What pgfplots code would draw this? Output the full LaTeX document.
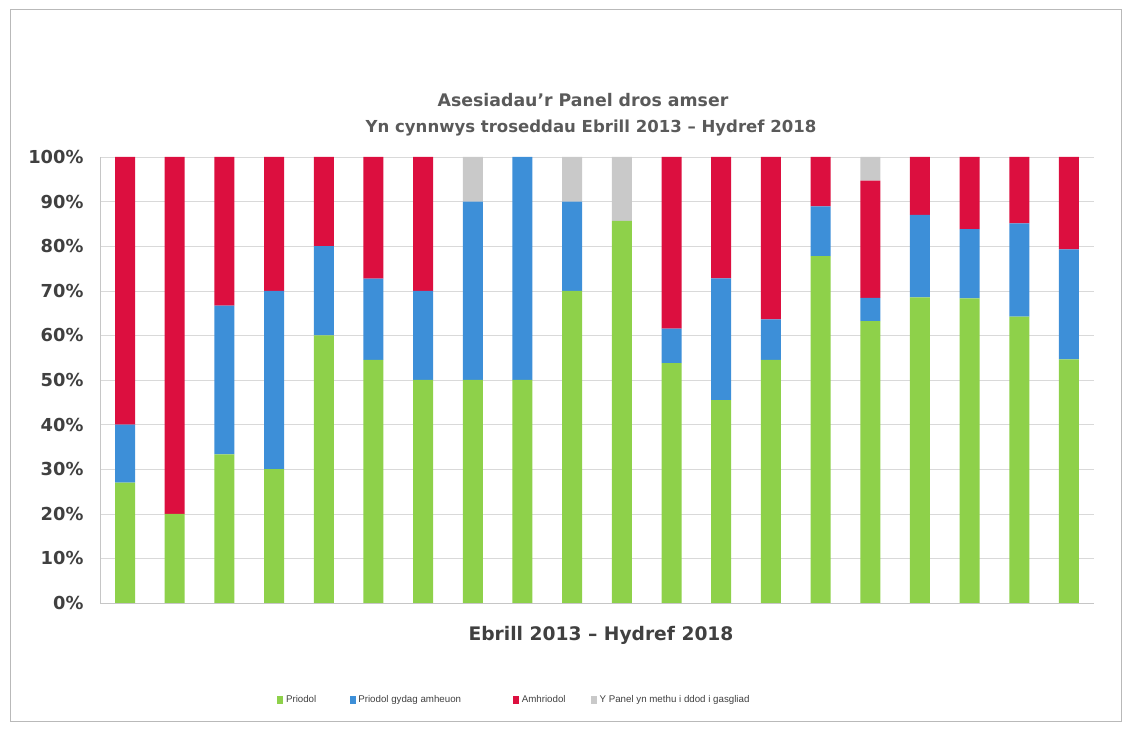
\documentclass[border=0pt]{standalone}
\usepackage{fontspec}
\setmainfont{DejaVu Sans}
\newfontfamily\legfont{Liberation Sans}
\usepackage{pgfplots}
\usepackage{pgfplotstable}
\pgfplotsset{compat=1.18}

\definecolor{cgreen}{HTML}{8ED14A}
\definecolor{cblue}{HTML}{3D8FD8}
\definecolor{cred}{HTML}{DC0F3F}
\definecolor{cgrey}{HTML}{C9C9C9}
\definecolor{ctext}{HTML}{5A5A5A}
\definecolor{ctick}{HTML}{404040}

% shares per period (percent of cases)
\pgfplotstableread{
idx green blue red grey
0  27   13   60   0
1  20   0    80   0
2  33.3 33.4 33.3 0
3  30   40   30   0
4  60   20   20   0
5  54.5 18.2 27.3 0
6  50   20   30   0
7  50   40   0    10
8  50   50   0    0
9  70   20   0    10
10 85.7 0    0    14.3
11 53.8 7.7  38.5 0
12 45.5 27.3 27.2 0
13 54.5 9.1  36.4 0
14 77.8 11.1 11.1 0
15 63.2 5.2  26.3 5.3
16 68.5 18.5 13   0
17 68.3 15.5 16.2 0
18 64.2 20.9 14.9 0
19 54.6 24.7 20.7 0
}\panel

\begin{document}
\begin{tikzpicture}[x=0.75pt,y=0.75pt]
\useasboundingbox (0,0) rectangle (1130,730);
\draw[gray!55] (10,9) rectangle (1121,721);

\node[font=\bfseries\fontsize{13}{15}\selectfont, text=ctext] at (583,630) {Asesiadau’r Panel dros amser};
\node[font=\bfseries\fontsize{12.4}{15}\selectfont, text=ctext] at (591,602) {Yn cynnwys troseddau Ebrill 2013 – Hydref 2018};
\node[font=\bfseries\fontsize{14}{16}\selectfont, text=ctick] at (601,95) {Ebrill 2013 – Hydref 2018};

\begin{axis}[
    at={(75.15pt,95.25pt)}, anchor=south west,
    scale only axis,
    width=745.2pt, height=334.5pt,
    ybar stacked,
    bar width=15pt,
    xmin=-0.5, xmax=19.5,
    ymin=0, ymax=100,
    xtick=\empty,
    ytick={0,10,...,100},
    yticklabels={0\%,10\%,20\%,30\%,40\%,50\%,60\%,70\%,80\%,90\%,100\%},
    yticklabel style={font=\bfseries\fontsize{13.4}{15}\selectfont, text=ctick, xshift=-9pt},
    major tick length=0pt,
    axis x line*=bottom, axis y line*=left,
    axis line style={gray!45, -},
    ymajorgrids, grid style={gray!30},
    legend columns=4,
    legend style={at={(0.174,-0.2175)}, anchor=west, draw=none, fill=none,
        font=\legfont\fontsize{7.3}{9}\selectfont, text=ctick,
        /tikz/column 2/.style={column sep=23pt},
        /tikz/column 4/.style={column sep=37pt},
        /tikz/column 6/.style={column sep=17pt}},
    legend image code/.code={\fill[#1, draw=none] (0pt,-3pt) rectangle (4.5pt,3pt);},
]
\addplot[fill=cgreen, draw=none] table[x=idx, y=green] {\panel};
\addplot[fill=cblue, draw=none] table[x=idx, y=blue] {\panel};
\addplot[fill=cred, draw=none] table[x=idx, y=red] {\panel};
\addplot[fill=cgrey, draw=none] table[x=idx, y=grey] {\panel};
\legend{Priodol, Priodol gydag amheuon, Amhriodol, Y Panel yn methu i ddod i gasgliad}
\end{axis}
\end{tikzpicture}
\end{document}
